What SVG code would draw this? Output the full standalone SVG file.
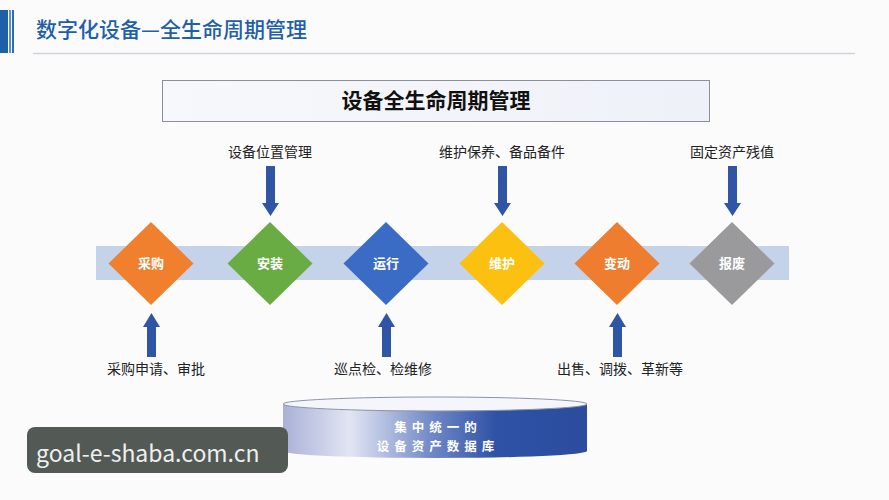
<svg xmlns="http://www.w3.org/2000/svg" width="889" height="500" viewBox="0 0 889 500">
<defs>
<style>
text{font-family:"Noto Sans CJK SC","Liberation Sans",sans-serif}
.lbl{font-size:14px;fill:#222;text-anchor:middle}
.dl{font-size:13px;fill:#fff;text-anchor:middle;font-weight:bold}
.arr{fill:#2f55a4}
.db{font-size:12.5px;fill:#fff;text-anchor:middle;letter-spacing:5px;font-weight:bold}
</style>
<linearGradient id="boxg" x1="0" y1="0" x2="1" y2="0">
<stop offset="0" stop-color="#f7f8fb"/><stop offset="1" stop-color="#eef1f8"/>
</linearGradient>
<linearGradient id="cyl" x1="0" y1="0" x2="1" y2="0">
<stop offset="0" stop-color="#a9b1d8"/><stop offset="0.22" stop-color="#e2e5f3"/><stop offset="0.5" stop-color="#6d85c4"/><stop offset="0.7" stop-color="#2f52a6"/><stop offset="1" stop-color="#2b4c9f"/>
</linearGradient>
</defs>
<rect width="889" height="500" fill="#fbfbfc"/>
<g id="header">
<rect x="0" y="10" width="8" height="43" fill="#1f5fa8"/>
<rect x="9" y="10" width="2" height="43" fill="#5a8fd0"/>
<rect x="12" y="10" width="2" height="43" fill="#2e6cb8"/>
<text x="36" y="37" font-size="21" font-weight="500" fill="#1f5ea8">数字化设备—全生命周期管理</text>
<line x1="33" y1="53.5" x2="855" y2="53.5" stroke="#cfd3da" stroke-width="1.5"/>
</g>
<g id="title">
<rect x="162.5" y="80.5" width="547" height="41" fill="url(#boxg)" stroke="#8a8f99"/>
<text x="436" y="108" font-size="21" fill="#111" text-anchor="middle" font-weight="bold">设备全生命周期管理</text>
</g>
<g id="band"><rect x="96" y="246" width="693" height="34" fill="#c5d3ea"/></g>
<g id="n-caigou"><polygon points="151,222 193.5,263.5 151,305 108.5,263.5" fill="#f07f2e"/><text class="dl" x="151" y="268">采购</text></g>
<g id="n-anzhuang"><polygon points="270,222 312.5,263.5 270,305 227.5,263.5" fill="#6aac44"/><text class="dl" x="270" y="268">安装</text></g>
<g id="n-yunxing"><polygon points="386,222 428.5,263.5 386,305 343.5,263.5" fill="#3a6cc6"/><text class="dl" x="386" y="268">运行</text></g>
<g id="n-weihu"><polygon points="502,222 544.5,263.5 502,305 459.5,263.5" fill="#fcc010"/><text class="dl" x="502" y="268">维护</text></g>
<g id="n-biandong"><polygon points="617,222 659.5,263.5 617,305 574.5,263.5" fill="#ee7d30"/><text class="dl" x="617" y="268">变动</text></g>
<g id="n-baofei"><polygon points="732,222 774.5,263.5 732,305 689.5,263.5" fill="#9a9a9c"/><text class="dl" x="732" y="268">报废</text></g>
<g id="connectors">
<polygon class="arr" points="266,166 275,166 275,203 279,203 270.5,216 262,203 266,203"/>
<polygon class="arr" points="498,166 507,166 507,203 511,203 502.5,216 494,203 498,203"/>
<polygon class="arr" points="728,166 737,166 737,203 741,203 732.5,216 724,203 728,203"/>
<polygon class="arr" points="147,357 156,357 156,327 160,327 151.5,313 143,327 147,327"/>
<polygon class="arr" points="382,357 391,357 391,327 395,327 386.5,313 378,327 382,327"/>
<polygon class="arr" points="613,357 622,357 622,327 626,327 617.5,313 609,327 613,327"/>
</g>
<g id="labels">
<text class="lbl" x="270" y="157">设备位置管理</text>
<text class="lbl" x="502" y="157">维护保养、备品备件</text>
<text class="lbl" x="732" y="157">固定资产残值</text>
<text class="lbl" x="156" y="374">采购申请、审批</text>
<text class="lbl" x="383" y="374">巡点检、检维修</text>
<text class="lbl" x="620" y="374">出售、调拨、革新等</text>
</g>
<g id="database">
<path d="M283,404 L283,451 A152,7 0 0 0 587,451 L587,404 Z" fill="url(#cyl)"/>
<ellipse cx="435" cy="404" rx="152" ry="7" fill="#f5f6fb" stroke="#8e94a6"/>
<text class="db" x="438" y="432">集中统一的</text>
<text class="db" x="438" y="451">设备资产数据库</text>
</g>
<g id="watermark">
<rect x="27" y="427" width="261" height="46" rx="8" fill="#535a56"/>
<text x="36" y="462" font-size="23" fill="#eef0ee" font-family="Open Sans, Liberation Sans, sans-serif">goal-e-shaba.com.cn</text>
</g>
</svg>
